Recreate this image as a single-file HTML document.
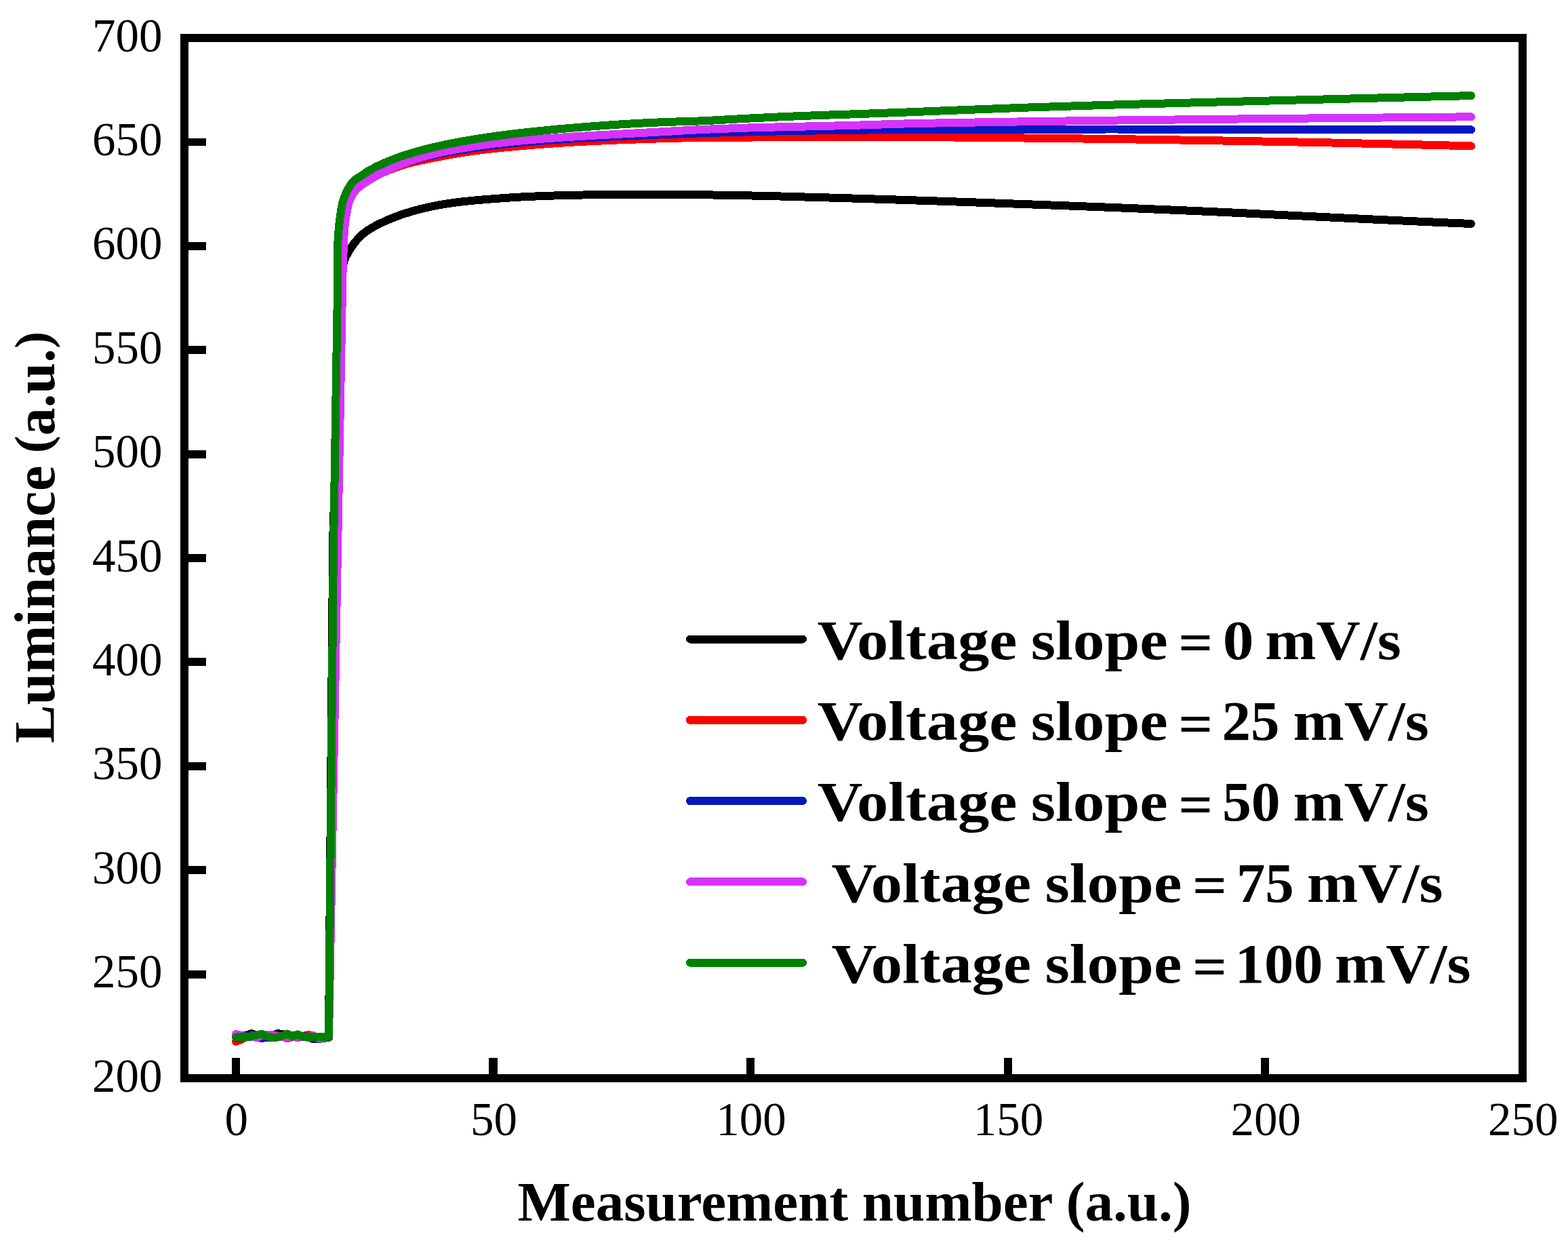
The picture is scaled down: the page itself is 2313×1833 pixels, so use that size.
<!DOCTYPE html>
<html lang="en">
<head>
<meta charset="utf-8">
<title>Luminance vs measurement number</title>
<style>
html,body{margin:0;padding:0;background:#ffffff;}
body{width:2313px;height:1833px;overflow:hidden;}
svg{display:block;}
text{font-family:"Liberation Serif",serif;fill:#000;}
.tick{font-size:69px;}
.bold{font-weight:bold;}
</style>
</head>
<body>
<svg width="2313" height="1833" viewBox="0 0 2313 1833">
<rect x="0" y="0" width="2313" height="1833" fill="#ffffff"/>

<g id="curves" shape-rendering="crispEdges">
<path d="M348.0 1529.0L356.0 1528.0L363.0 1527.0L371.0 1524.0L379.0 1527.0L386.0 1529.0L394.0 1529.0L401.0 1528.0L409.0 1524.0L417.0 1525.0L424.0 1529.0L432.0 1529.0L439.0 1528.0L447.0 1529.0L455.0 1529.0L462.0 1529.0L470.0 1529.0L477.0 1529.0L485.0 1529.0L491.3 790.0L505.0 399.0C505.2 394.3 506.2 389.5 507.6 385.0C509.2 379.9 511.9 375.1 514.6 370.5C517.2 366.0 520.2 361.7 523.4 357.6C526.4 353.9 529.5 350.3 533.0 347.1C535.2 345.1 537.6 343.2 540.0 341.4C543.8 338.6 547.9 336.3 552.0 334.0C556.2 331.6 560.6 329.5 565.0 327.5C569.9 325.2 574.9 323.1 580.0 321.1C586.6 318.5 593.3 316.1 600.0 314.0C606.6 311.9 613.3 310.0 620.0 308.3C628.3 306.2 636.6 304.4 645.0 302.8C653.3 301.3 661.6 300.0 670.0 298.8C680.0 297.4 690.0 296.5 700.0 295.5C711.7 294.4 723.3 293.5 735.0 292.7C746.7 291.8 758.3 291.0 770.0 290.4C783.3 289.7 796.7 289.2 810.0 288.7C826.7 288.2 843.3 287.8 860.0 287.5C880.0 287.2 900.0 287.2 920.0 287.1C940.0 287.0 960.0 286.9 980.0 286.9C1000.0 286.9 1020.0 287.0 1040.0 287.3C1060.0 287.5 1080.0 287.9 1100.0 288.3C1126.7 288.8 1153.3 289.5 1180.0 290.3C1206.7 291.0 1233.3 291.8 1260.0 292.6C1286.7 293.4 1313.3 294.2 1340.0 295.1C1366.7 296.0 1393.3 296.9 1420.0 297.8C1453.3 299.0 1486.7 300.2 1520.0 301.4C1560.0 302.9 1600.0 304.3 1640.0 305.9C1680.0 307.5 1720.0 309.1 1760.0 310.9C1806.7 312.9 1853.3 315.2 1900.0 317.5C1946.7 319.7 1993.3 322.1 2040.0 324.2C2083.3 326.2 2126.7 328.1 2170.0 330.0" fill="none" stroke="#000000" stroke-width="12" stroke-linejoin="round" stroke-linecap="round"/>
<path d="M348.0 1536.0L356.0 1533.0L363.0 1529.0L371.0 1527.0L379.0 1527.0L386.0 1529.0L394.0 1529.0L401.0 1529.0L409.0 1529.0L417.0 1529.0L424.0 1531.0L432.0 1529.0L439.0 1529.0L447.0 1528.0L455.0 1526.0L462.0 1528.0L470.0 1529.0L477.0 1529.0L485.0 1529.0L505.0 345.0C505.2 335.9 507.0 326.9 509.0 318.0C510.6 310.9 512.2 303.7 515.0 297.0C517.0 292.3 519.0 287.6 522.0 283.5C524.8 279.8 528.4 276.7 532.0 273.7C534.5 271.7 537.3 269.9 540.0 268.1C543.9 265.5 547.9 263.1 552.0 260.8C556.2 258.5 560.6 256.4 565.0 254.4C569.9 252.2 574.9 250.2 580.0 248.3C586.6 245.8 593.3 243.7 600.0 241.7C606.6 239.8 613.3 238.3 620.0 236.8C628.3 234.9 636.7 233.4 645.0 231.7C653.3 230.1 661.6 228.5 670.0 227.1C680.0 225.4 690.0 223.8 700.0 222.5C711.6 220.9 723.3 219.6 735.0 218.4C746.7 217.2 758.3 216.1 770.0 215.1C783.3 213.9 796.7 212.9 810.0 211.9C826.7 210.7 843.3 209.7 860.0 208.8C880.0 207.7 900.0 206.9 920.0 206.1C940.0 205.3 960.0 204.7 980.0 204.1C1000.0 203.6 1020.0 203.1 1040.0 202.9C1060.0 202.6 1080.0 202.7 1100.0 202.6C1126.7 202.4 1153.3 202.0 1180.0 201.9C1206.7 201.7 1233.3 201.6 1260.0 201.6C1286.7 201.7 1313.3 201.8 1340.0 202.0C1366.7 202.2 1393.3 202.4 1420.0 202.6C1453.3 202.9 1486.7 203.2 1520.0 203.6C1560.0 204.0 1600.0 204.5 1640.0 205.0C1680.0 205.6 1720.0 206.1 1760.0 206.8C1806.7 207.5 1853.3 208.3 1900.0 209.2C1946.7 210.1 1993.3 211.1 2040.0 212.2C2083.3 213.1 2126.7 214.2 2170.0 215.3" fill="none" stroke="#ff0000" stroke-width="12" stroke-linejoin="round" stroke-linecap="round"/>
<path d="M348.0 1530.0L356.0 1530.0L363.0 1528.0L371.0 1528.0L379.0 1529.0L386.0 1531.0L394.0 1530.0L401.0 1530.0L409.0 1529.0L417.0 1527.0L424.0 1527.0L432.0 1527.0L439.0 1527.0L447.0 1528.0L455.0 1530.0L462.0 1532.0L470.0 1532.0L477.0 1531.0L485.0 1530.0L503.0 345.0C503.1 335.9 505.0 326.9 507.0 318.0C508.6 310.9 510.1 303.7 513.0 297.0C514.9 292.5 517.0 287.9 520.0 284.0C523.1 280.0 527.1 276.7 531.0 273.5C533.9 271.2 536.9 269.1 540.0 267.0C543.9 264.3 547.9 261.7 552.0 259.4C556.2 256.9 560.6 254.7 565.0 252.6C569.9 250.2 574.9 248.1 580.0 246.0C586.6 243.4 593.3 241.1 600.0 239.0C606.6 236.8 613.3 235.0 620.0 233.2C628.3 231.0 636.6 229.1 645.0 227.3C653.3 225.6 661.6 224.0 670.0 222.6C680.0 220.8 690.0 219.3 700.0 217.9C711.6 216.2 723.3 214.8 735.0 213.5C746.7 212.2 758.3 211.0 770.0 209.9C783.3 208.7 796.7 207.6 810.0 206.6C826.7 205.4 843.3 204.4 860.0 203.4C880.0 202.3 900.0 201.5 920.0 200.6C940.0 199.8 960.0 199.0 980.0 198.2C1000.0 197.4 1020.0 196.7 1040.0 196.1C1060.0 195.4 1080.0 194.9 1100.0 194.4C1126.7 193.8 1153.3 193.3 1180.0 192.9C1206.7 192.4 1233.3 191.9 1260.0 191.6C1286.7 191.4 1313.3 191.4 1340.0 191.3C1366.7 191.2 1393.3 191.2 1420.0 191.1C1453.3 191.0 1486.7 190.8 1520.0 190.7C1560.0 190.5 1600.0 190.5 1640.0 190.5C1680.0 190.5 1720.0 190.6 1760.0 190.7C1806.7 190.8 1853.3 190.9 1900.0 190.9C1946.7 191.0 1993.3 191.1 2040.0 191.2C2083.3 191.2 2126.7 191.2 2170.0 191.3" fill="none" stroke="#0018c0" stroke-width="12" stroke-linejoin="round" stroke-linecap="round"/>
<path d="M348.0 1525.0L356.0 1527.0L363.0 1529.0L371.0 1529.0L379.0 1530.0L386.0 1527.0L394.0 1526.0L401.0 1526.0L409.0 1528.0L417.0 1529.0L424.0 1530.0L432.0 1529.0L439.0 1530.0L447.0 1529.0L455.0 1530.0L462.0 1527.0L470.0 1531.0L477.0 1530.0L485.0 1529.0L505.1 420.0C505.5 400.0 506.1 380.0 507.0 360.0C507.4 351.7 507.4 343.3 508.3 335.0C509.0 328.3 509.9 321.6 511.2 314.9C512.5 308.2 513.3 301.3 515.9 295.0C517.5 291.2 519.4 287.4 521.8 284.1C524.6 280.2 528.3 277.0 532.0 274.0C534.5 272.0 537.3 270.2 540.0 268.4C543.9 265.8 548.0 263.5 552.0 261.2C556.3 258.8 560.6 256.4 565.0 254.2C569.9 251.7 574.9 249.2 580.0 247.0C586.6 244.0 593.2 241.4 600.0 238.9C606.6 236.5 613.3 234.4 620.0 232.4C628.3 230.0 636.6 227.9 645.0 225.9C653.3 224.0 661.6 222.3 670.0 220.7C680.0 218.8 690.0 217.1 700.0 215.6C711.6 213.8 723.3 212.3 735.0 210.9C746.6 209.6 758.3 208.4 770.0 207.3C783.3 206.0 796.7 205.0 810.0 204.0C826.7 202.7 843.3 201.7 860.0 200.7C880.0 199.4 900.0 198.5 920.0 197.4C940.0 196.3 960.0 195.2 980.0 194.1C1000.0 193.0 1020.0 191.7 1040.0 190.8C1060.0 189.9 1080.0 189.2 1100.0 188.6C1126.7 187.8 1153.3 187.3 1180.0 186.7C1206.7 186.1 1233.3 185.5 1260.0 184.8C1286.7 184.0 1313.3 183.0 1340.0 182.3C1366.7 181.7 1393.3 181.3 1420.0 180.8C1453.3 180.2 1486.7 179.7 1520.0 179.2C1560.0 178.6 1600.0 178.1 1640.0 177.6C1680.0 177.1 1720.0 176.7 1760.0 176.2C1806.7 175.7 1853.3 175.2 1900.0 174.8C1946.7 174.3 1993.3 173.9 2040.0 173.5C2083.3 173.1 2126.7 172.7 2170.0 172.3" fill="none" stroke="#d633ff" stroke-width="12" stroke-linejoin="round" stroke-linecap="round"/>
<path d="M348.0 1529.6L355.6 1528.6L363.2 1529.0L370.8 1528.6L378.4 1526.3L386.0 1524.9L393.6 1528.2L401.1 1529.6L408.7 1529.6L416.3 1527.7L423.9 1524.5L431.5 1528.6L439.1 1525.4L446.7 1529.1L454.3 1529.1L461.9 1529.1L469.5 1529.1L477.0 1529.1L485.0 1529.1L491.8 820.0L498.1 420.0C498.5 395.0 497.1 369.9 499.1 345.0C499.8 335.8 500.6 326.7 502.0 317.6C503.1 310.6 503.8 303.4 505.9 296.6C508.0 289.7 510.8 283.0 514.5 276.9C516.4 273.7 518.4 270.4 521.0 267.6C524.8 263.5 530.4 261.4 534.9 258.1C536.6 256.8 538.2 255.4 540.0 254.2C543.8 251.6 547.9 249.6 552.0 247.5C556.3 245.2 560.6 243.2 565.0 241.2C569.9 239.0 575.0 236.9 580.0 235.0C586.6 232.4 593.3 230.1 600.0 228.0C606.6 225.9 613.3 223.9 620.0 222.1C628.3 219.8 636.6 217.8 645.0 215.9C653.3 214.0 661.6 212.3 670.0 210.7C680.0 208.7 690.0 207.0 700.0 205.4C711.6 203.5 723.3 201.8 735.0 200.2C746.6 198.6 758.3 197.2 770.0 195.9C783.3 194.4 796.7 193.0 810.0 191.7C826.7 190.1 843.3 188.7 860.0 187.4C880.0 185.8 900.0 184.3 920.0 183.1C940.0 181.8 960.0 180.9 980.0 180.1C1000.0 179.3 1020.0 179.0 1040.0 178.1C1060.0 177.2 1080.0 175.8 1100.0 174.8C1126.7 173.4 1153.3 172.2 1180.0 171.1C1206.7 170.0 1233.3 169.2 1260.0 168.3C1286.7 167.3 1313.3 166.4 1340.0 165.4C1366.7 164.4 1393.3 163.2 1420.0 162.2C1453.3 160.9 1486.7 159.6 1520.0 158.4C1560.0 157.0 1600.0 155.8 1640.0 154.6C1680.0 153.4 1720.0 152.4 1760.0 151.4C1806.7 150.2 1853.3 149.0 1900.0 147.8C1946.7 146.6 1993.3 145.5 2040.0 144.3C2083.3 143.2 2126.7 142.1 2170.0 141.1" fill="none" stroke="#008000" stroke-width="12" stroke-linejoin="round" stroke-linecap="round"/>
</g>
<g id="frame" shape-rendering="crispEdges">
<rect x="272" y="56" width="1974" height="1534" fill="none" stroke="#000" stroke-width="12"/>
<rect x="278" y="1431" width="26" height="12" fill="#000"/>
<rect x="278" y="1277" width="26" height="12" fill="#000"/>
<rect x="278" y="1124" width="26" height="12" fill="#000"/>
<rect x="278" y="970" width="26" height="12" fill="#000"/>
<rect x="278" y="817" width="26" height="12" fill="#000"/>
<rect x="278" y="664" width="26" height="12" fill="#000"/>
<rect x="278" y="510" width="26" height="12" fill="#000"/>
<rect x="278" y="357" width="26" height="12" fill="#000"/>
<rect x="278" y="204" width="26" height="11" fill="#000"/>
<rect x="342" y="1560" width="12" height="24" fill="#000"/>
<rect x="721" y="1560" width="13" height="24" fill="#000"/>
<rect x="1101" y="1560" width="12" height="24" fill="#000"/>
<rect x="1481" y="1560" width="12" height="24" fill="#000"/>
<rect x="1860" y="1560" width="12" height="24" fill="#000"/>
</g>
<g id="ticklabels" class="tick">
<text x="239.6" y="1609.6" text-anchor="end">200</text>
<text x="239.6" y="1456.2" text-anchor="end">250</text>
<text x="239.6" y="1302.8" text-anchor="end">300</text>
<text x="239.6" y="1149.4" text-anchor="end">350</text>
<text x="239.6" y="996.0" text-anchor="end">400</text>
<text x="239.6" y="842.6" text-anchor="end">450</text>
<text x="239.6" y="689.2" text-anchor="end">500</text>
<text x="239.6" y="535.8" text-anchor="end">550</text>
<text x="239.6" y="382.4" text-anchor="end">600</text>
<text x="239.6" y="229.0" text-anchor="end">650</text>
<text x="239.6" y="75.6" text-anchor="end">700</text>
<text x="348.8" y="1673.8" text-anchor="middle">0</text>
<text x="728.4" y="1673.8" text-anchor="middle">50</text>
<text x="1108.0" y="1673.8" text-anchor="middle">100</text>
<text x="1487.6" y="1673.8" text-anchor="middle">150</text>
<text x="1867.2" y="1673.8" text-anchor="middle">200</text>
<text x="2246.8" y="1673.8" text-anchor="middle">250</text>
</g>
<g id="axislabels" class="bold">
<text x="1260.4" y="1800.2" font-size="83.1" text-anchor="middle">Measurement number (a.u.)</text>
<text transform="translate(80.0,1094.8) rotate(-90)" font-size="84.1"><tspan x="-1.3" y="0.0" font-size="84.1" textLength="409.4" lengthAdjust="spacingAndGlyphs">Luminance</tspan> <tspan x="426.4" y="-6.6" font-size="74.8" textLength="26.4" lengthAdjust="spacingAndGlyphs">(</tspan><tspan x="452.2" y="0.0" font-size="84.1" textLength="128.5" lengthAdjust="spacingAndGlyphs">a.u.</tspan><tspan x="580.7" y="-6.6" font-size="74.8" textLength="25.4" lengthAdjust="spacingAndGlyphs">)</tspan></text>
</g>
<g id="legend" class="bold" shape-rendering="crispEdges">
<line x1="1018" y1="942.5" x2="1184" y2="942.5" stroke="#000000" stroke-width="12" stroke-linecap="round"/>
<text font-size="82.5"><tspan x="1205.8" y="971.7" textLength="294.5" lengthAdjust="spacingAndGlyphs">Voltage</tspan> <tspan x="1520.7" y="971.7" textLength="201.9" lengthAdjust="spacingAndGlyphs">slope</tspan> <tspan x="1738.2" y="975.3" textLength="50.9" lengthAdjust="spacingAndGlyphs">=</tspan> <tspan x="1803.7" y="971.7" textLength="45.7" lengthAdjust="spacingAndGlyphs">0</tspan> <tspan x="1866.3" y="971.7" textLength="200.6" lengthAdjust="spacingAndGlyphs">mV/s</tspan></text>
<line x1="1018" y1="1061.8" x2="1184" y2="1061.8" stroke="#ff0000" stroke-width="12" stroke-linecap="round"/>
<text font-size="82.5"><tspan x="1205.8" y="1091.0" textLength="294.5" lengthAdjust="spacingAndGlyphs">Voltage</tspan> <tspan x="1520.7" y="1091.0" textLength="201.9" lengthAdjust="spacingAndGlyphs">slope</tspan> <tspan x="1738.2" y="1094.6" textLength="50.9" lengthAdjust="spacingAndGlyphs">=</tspan> <tspan x="1802.6" y="1091.0" textLength="84.9" lengthAdjust="spacingAndGlyphs">25</tspan> <tspan x="1907.5" y="1091.0" textLength="200.5" lengthAdjust="spacingAndGlyphs">mV/s</tspan></text>
<line x1="1018" y1="1181.1" x2="1184" y2="1181.1" stroke="#0018c0" stroke-width="12" stroke-linecap="round"/>
<text font-size="82.5"><tspan x="1205.8" y="1210.3" textLength="294.5" lengthAdjust="spacingAndGlyphs">Voltage</tspan> <tspan x="1520.7" y="1210.3" textLength="201.9" lengthAdjust="spacingAndGlyphs">slope</tspan> <tspan x="1738.2" y="1213.9" textLength="50.9" lengthAdjust="spacingAndGlyphs">=</tspan> <tspan x="1803.0" y="1210.3" textLength="85.7" lengthAdjust="spacingAndGlyphs">50</tspan> <tspan x="1907.5" y="1210.3" textLength="200.5" lengthAdjust="spacingAndGlyphs">mV/s</tspan></text>
<line x1="1018" y1="1300.4" x2="1184" y2="1300.4" stroke="#d633ff" stroke-width="12" stroke-linecap="round"/>
<text font-size="82.5"><tspan x="1226.5" y="1329.6" textLength="294.5" lengthAdjust="spacingAndGlyphs">Voltage</tspan> <tspan x="1541.4" y="1329.6" textLength="201.9" lengthAdjust="spacingAndGlyphs">slope</tspan> <tspan x="1758.9" y="1333.2" textLength="50.9" lengthAdjust="spacingAndGlyphs">=</tspan> <tspan x="1823.9" y="1329.6" textLength="84.8" lengthAdjust="spacingAndGlyphs">75</tspan> <tspan x="1928.1" y="1329.6" textLength="200.6" lengthAdjust="spacingAndGlyphs">mV/s</tspan></text>
<line x1="1018" y1="1419.7" x2="1184" y2="1419.7" stroke="#008000" stroke-width="12" stroke-linecap="round"/>
<text font-size="82.5"><tspan x="1226.5" y="1448.9" textLength="294.5" lengthAdjust="spacingAndGlyphs">Voltage</tspan> <tspan x="1541.4" y="1448.9" textLength="201.9" lengthAdjust="spacingAndGlyphs">slope</tspan> <tspan x="1758.9" y="1452.5" textLength="50.9" lengthAdjust="spacingAndGlyphs">=</tspan> <tspan x="1821.7" y="1448.9" textLength="129.7" lengthAdjust="spacingAndGlyphs">100</tspan> <tspan x="1969.1" y="1448.9" textLength="200.5" lengthAdjust="spacingAndGlyphs">mV/s</tspan></text>
</g>
</svg>
</body>
</html>
